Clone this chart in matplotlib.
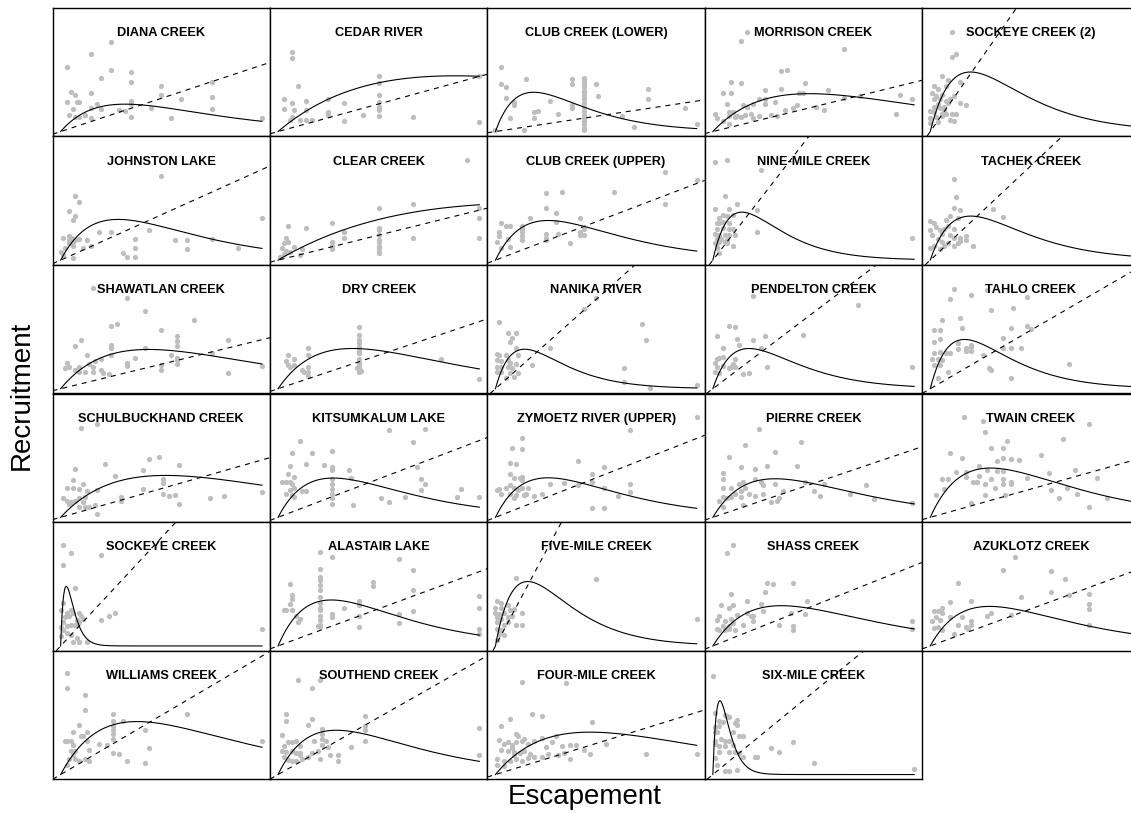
import numpy as np
import matplotlib
matplotlib.use("Agg")
import matplotlib.pyplot as plt

plt.rcParams['font.family'] = ['Liberation Sans', 'DejaVu Sans']

sites = ["DIANA CREEK", "CEDAR RIVER", "CLUB CREEK (LOWER)", "MORRISON CREEK", "SOCKEYE CREEK (2)",
         "JOHNSTON LAKE", "CLEAR CREEK", "CLUB CREEK (UPPER)", "NINE-MILE CREEK", "TACHEK CREEK",
         "SHAWATLAN CREEK", "DRY CREEK", "NANIKA RIVER", "PENDELTON CREEK", "TAHLO CREEK",
         "SCHULBUCKHAND CREEK", "KITSUMKALUM LAKE", "ZYMOETZ RIVER (UPPER)", "PIERRE CREEK", "TWAIN CREEK",
         "SOCKEYE CREEK", "ALASTAIR LAKE", "FIVE-MILE CREEK", "SHASS CREEK", "AZUKLOTZ CREEK",
         "WILLIAMS CREEK", "SOUTHEND CREEK", "FOUR-MILE CREEK", "SIX-MILE CREEK"]

# Ricker fit: escapement at peak recruitment, peak recruitment
peak_S = [32, 88, 19, 48, 20, 28.6, 130, 26.2, 14.4, 20.1, 43.7, 37, 14.5, 18, 17,
          52.2, 27.4, 26.2, 31, 30, 2.8, 26.5, 16, 34, 29.5, 38, 29, 47, 3.5]
peak_R = [23, 46.8, 33, 31.8, 50, 34.2, 48, 33.3, 40.3, 37.0, 33.0, 33.8, 33.2, 33.8, 41.4,
          35.2, 33.0, 33.2, 32.4, 41.4, 50, 38.6, 54.1, 33.8, 33.2, 44.5, 37.2, 35.6, 61.9]
# replacement line R = S, expressed in the scaled units of each panel
replacement_slope = [0.558, 0.463, 0.256, 0.414, 2.42, 0.761, 0.42, 0.644, 2.18, 1.585,
                     0.412, 0.564, 1.5, 1.28, 0.983, 0.482, 0.645, 0.663, 0.571, 0.475,
                     1.816, 0.624, 3.17, 0.675, 0.622, 0.995, 0.96, 0.522, 1.386]
escapement_max = 100

# observed (escapement, recruitment), scaled units
diana = [(25,75),(15,65),(3,54),(25,52),(35,50),(20,45),(35,42),(5,33),(7,31),(15,32),(50,38),(75,42),
         (75,29),(60,27),(9,25),(3,25),(8,25),(18,23),(15,20),(20,19),(6,19),(32,17),(35,26),(35,23),
         (45,20),(4,14),(7,12),(9,12),(12,14),(15,11),(35,12),(55,11),(75,19),(100,11),(50,31),(29,18)]
cedar = [(7,67),(7,62),(10,38),(50,47),(50,41),(50,31),(50,25),(50,21),(50,18),(50,13),(3,27),(7,24),
         (14,26),(3,19),(8,18),(14,18),(25,27),(33,24),(25,16),(25,14),(33,9),(11,10),(14,10),(7,12),
         (6,10),(17,10),(67,12),(100,47),(100,8),(42,14)]
club_lower = [(3,54),(3,40),(5,37),(5,28),(9,25),(9,22),(7,11),(15,44),(19,16),(19,11),(21,17),(27,26),
              (31,15),(38,44),(38,40),(38,22),(38,20),(0,1),(14,1),(50,40),(51,30),(76,36),(76,27),(63,13),
              (69,4),(94,20),(100,6),(44,45),(44,43),(44,41),(44,39),(44,37),(44,34),(44,32),(44,30),
              (44,27),(44,24),(44,21),(44,17),(44,14),(44,11),(44,9),(44,6),(44,3),(44,1)]
morrison = [(14,76),(17,84),(65,69),(34,51),(37,52),(9,42),(14,41),(46,41),(5,32),(9,32),(26,35),(34,36),
            (57,35),(43,32),(45,32),(23,27),(26,27),(20,23),(15,22),(17,21),(10,16),(12,13),(14,12),(16,14),
            (19,15),(7,23),(8,16),(8,13),(1,15),(2,11),(5,9),(8,6),(11,12),(20,11),(23,13),(29,14),(32,13),
            (36,18),(42,22),(40,20),(51,21),(55,18),(65,28),(73,30),(93,31),(99,27),(91,15),(31,25),(26,23)]
sockeye2 = [(11,84),(11,63),(13,65),(6,47),(9,43),(15,42),(8,38),(4,36),(2,38),(1,32),(3,30),(6,31),
            (2,27),(5,27),(8,26),(10,27),(12,30),(9,24),(15,24),(18,22),(4,23),(2,21),(7,21),(0,17),(2,16),
            (6,15),(8,15),(11,15),(13,15),(0,11),(3,12),(6,13),(10,10),(12,9),(4,8),(0,7),(7,18),(5,20)]
johnston = [(7,54),(9,49),(50,71),(4,41),(7,37),(6,34),(100,35),(19,24),(25,24),(44,25),(37,18),(1,19),
            (4,20),(5,19),(6,18),(4,17),(6,15),(7,17),(9,18),(13,17),(4,14),(6,12),(11,10),(15,12),(31,6),
            (37,10),(37,3),(33,3),(57,17),(63,17),(63,9),(88,10),(75,18),(0,7),(1,4),(6,2),(2,10)]
clear = [(94,84),(50,44),(67,47),(27,31),(33,24),(33,19),(50,27),(50,25),(50,21),(50,17),(50,15),(50,12),
         (50,10),(50,8),(50,6),(5,29),(14,27),(4,19),(5,15),(3,14),(2,10),(4,8),(6,7),(3,5),(1,3),(11,4),
         (12,9),(27,15),(27,12),(27,9),(67,19),(100,35),(100,44),(100,19),(8,11)]
club_upper = [(25,56),(33,57),(25,44),(30,40),(17,35),(3,31),(5,29),(7,29),(13,29),(13,26),(13,24),(13,20),
              (13,17),(2,24),(2,20),(6,18),(1,15),(7,11),(3,10),(25,22),(25,19),(25,17),(31,22),(37,14),
              (42,35),(42,24),(42,21),(30,32),(84,74),(59,57),(84,47),(100,67),(44,26),(44,21)]
nine_mile = [(1,82),(7,84),(24,76),(6,54),(12,47),(1,43),(8,43),(22,42),(5,38),(3,35),(7,37),(10,38),
             (2,31),(3,31),(5,32),(8,31),(2,26),(5,27),(8,26),(10,26),(1,22),(3,21),(6,21),(8,21),(11,21),
             (2,18),(4,18),(7,17),(1,14),(3,15),(6,15),(10,12),(2,10),(3,6),(22,24),(99,19),(7,14),(2,11)]
tachek = [(12,68),(13,53),(12,44),(15,42),(31,43),(36,36),(10,37),(8,34),(14,35),(0,33),(2,31),(3,28),
          (5,25),(6,22),(9,29),(12,26),(7,26),(10,21),(12,19),(15,19),(18,20),(18,17),(4,18),(6,15),(7,12),
          (9,14),(12,12),(14,14),(15,16),(21,12),(0,10),(2,12),(5,9),(0,25),(1,21)]
shawatlan = [(16,85),(33,76),(42,65),(66,58),(25,53),(28,54),(10,41),(7,36),(50,49),(58,44),(58,40),(58,36),
             (83,41),(25,37),(25,34),(42,34),(13,28),(17,23),(20,25),(25,28),(33,22),(33,19),(37,26),(50,20),
             (50,16),(55,28),(58,26),(58,24),(58,21),(75,30),(3,22),(4,18),(9,18),(14,21),(16,18),(12,14),
             (16,14),(20,16),(21,13),(24,12),(83,13),(100,19),(7,16),(9,14),(2,17)]
dry = [(40,52),(40,45),(40,41),(40,38),(40,35),(40,32),(40,30),(40,25),(40,22),(40,20),(40,17),(40,14),
       (15,34),(15,28),(5,28),(8,25),(4,23),(5,20),(6,18),(8,20),(12,16),(15,18),(15,14),(15,11),(13,14),
       (81,25),(100,8),(39,17),(41,15)]
nanika = [(2,56),(6,47),(10,47),(8,43),(7,39),(10,34),(1,29),(2,28),(5,28),(1,24),(3,23),(6,24),(7,22),
          (1,18),(3,18),(6,18),(8,17),(1,14),(3,14),(7,13),(11,13),(9,10),(5,9),(18,20),(27,34),(11,28),
          (10,21),(44,67),(50,76),(73,54),(75,41),(64,17),(64,6),(77,1),(100,3)]
pendelton = [(20,78),(72,70),(8,53),(11,52),(45,45),(2,44),(12,42),(20,41),(26,44),(13,37),(5,34),(24,34),
             (2,25),(3,26),(5,27),(11,25),(1,22),(2,18),(5,19),(10,21),(9,18),(11,18),(27,18),(1,14),(3,13),
             (15,12),(18,13),(99,18),(8,17)]
tahlo = [(12,84),(20,79),(28,83),(10,75),(48,77),(30,66),(41,68),(6,58),(15,59),(2,49),(5,49),(16,51),
         (40,51),(48,53),(50,50),(2,39),(5,42),(14,38),(36,43),(20,37),(18,34),(20,35),(18,32),(20,32),
         (2,30),(5,31),(8,30),(10,30),(14,33),(26,28),(36,34),(40,34),(45,34),(1,25),(4,25),(6,24),(2,20),
         (5,20),(29,17),(30,16),(40,9),(69,21),(4,9),(9,14)]
schulbuckhand = [(10,75),(18,78),(22,45),(7,41),(27,35),(44,49),(49,51),(59,44),(41,40),(51,32),(51,29),
                 (6,31),(11,28),(3,25),(6,25),(9,24),(18,23),(30,17),(41,24),(51,20),(54,18),(57,19),(59,11),
                 (74,16),(81,18),(100,21),(1,16),(3,14),(5,13),(7,14),(9,16),(12,17),(11,13),(9,9),(12,9),
                 (14,9),(17,10),(18,3),(30,14),(4,11),(13,22)]
kitsumkalum = [(55,73),(73,74),(11,64),(67,63),(7,54),(17,54),(27,56),(6,43),(14,45),(23,44),(27,42),(27,40),
               (35,40),(5,36),(8,34),(27,32),(36,33),(71,32),(2,30),(4,30),(6,30),(7,28),(8,25),(6,23),(4,20),
               (7,19),(8,17),(12,22),(14,22),(27,28),(27,24),(27,20),(27,16),(27,11),(37,10),(51,16),(55,13),
               (63,17),(89,17),(91,24),(100,17),(73,28),(71,23),(69,42)]
zymoetz = [(13,67),(8,58),(13,57),(7,46),(10,45),(7,36),(9,33),(12,33),(13,34),(13,31),(7,27),(9,25),
           (11,23),(13,25),(15,20),(1,23),(2,24),(5,25),(3,20),(7,20),(10,19),(19,18),(23,20),(27,28),(34,29),
           (41,27),(41,47),(9,16),(14,19),(16,25),(100,84),(67,73),(54,42),(48,36),(48,30),(54,25),(67,28),
           (67,21),(61,18),(48,8),(54,8)]
pierre = [(23,74),(44,63),(16,61),(8,51),(31,55),(14,42),(21,41),(27,43),(42,43),(5,37),(5,32),(5,25),
          (9,25),(13,28),(15,30),(16,25),(21,32),(24,30),(25,27),(31,28),(46,30),(55,28),(76,27),(5,17),
          (7,16),(9,17),(11,20),(14,22),(18,20),(14,17),(25,20),(21,18),(35,22),(50,22),(53,18),(68,20),
          (80,15),(99,12),(29,13),(32,14),(33,16),(15,10),(3,14),(5,9)]
twain = [(17,84),(26,81),(79,78),(27,72),(66,66),(38,64),(30,58),(36,58),(10,54),(16,50),(55,52),(36,50),
         (40,49),(44,48),(24,43),(13,38),(18,38),(28,40),(33,39),(36,39),(6,32),(9,32),(18,34),(21,30),
         (23,30),(27,28),(30,32),(32,25),(36,32),(36,28),(40,30),(40,28),(48,33),(59,37),(60,23),(68,25),
         (72,40),(73,20),(3,19),(7,24),(27,19),(37,19),(64,16),(20,12),(79,9),(83,33),(88,16),(24,35),(33,47)]
sockeye = [(1,85),(5,78),(20,76),(1,68),(7,49),(1,36),(0,30),(3,28),(5,30),(6,28),(2,24),(4,25),(1,20),
           (0,16),(3,17),(5,18),(7,18),(9,28),(10,25),(8,22),(9,20),(11,23),(20,22),(24,25),(27,28),(1,13),
           (3,11),(5,9),(8,7),(6,3),(9,3),(13,3),(100,14),(0,8)]
alastair = [(21,79),(27,75),(21,65),(54,82),(60,73),(67,64),(21,58),(21,55),(21,51),(21,47),(47,54),(47,50),
            (6,52),(7,43),(7,39),(67,47),(21,41),(21,36),(21,32),(21,30),(21,25),(21,22),(21,18),(21,16),
            (6,35),(4,30),(7,30),(9,25),(10,20),(11,23),(3,30),(27,27),(27,24),(33,32),(40,38),(40,34),
            (40,25),(40,16),(60,27),(60,19),(67,29),(100,42),(100,32),(100,14),(100,10),(20,17)]
five_mile = [(10,57),(1,38),(3,36),(0,32),(3,32),(6,34),(0,28),(2,27),(4,28),(7,30),(9,31),(13,28),(1,24),
             (3,23),(6,24),(8,25),(1,20),(4,18),(6,20),(10,18),(13,18),(1,14),(3,13),(2,10),(4,9),(1,5),
             (50,56),(100,23)]
shass = [(10,85),(7,78),(27,53),(30,52),(40,53),(9,44),(26,45),(4,34),(10,34),(8,32),(17,38),(24,35),
         (47,38),(3,25),(6,21),(2,22),(5,17),(8,17),(10,19),(9,23),(12,26),(15,18),(17,28),(19,25),(20,25),
         (20,21),(25,29),(39,28),(40,17),(33,18),(40,13),(46,27),(2,14),(3,13),(6,13),(8,14),(99,21),
         (99,14),(11,13)]
azuklotz = [(42,75),(36,64),(60,63),(67,56),(14,53),(45,41),(60,45),(69,43),(79,44),(10,37),(20,38),(79,35),
            (79,31),(6,32),(4,29),(2,29),(6,28),(1,21),(3,24),(5,22),(4,16),(2,15),(10,24),(14,18),(16,24),
            (20,21),(20,18),(19,14),(18,16),(12,10),(28,25),(30,28),(40,26),(79,18),(6,13)]
williams = [(3,85),(3,73),(12,67),(12,54),(26,51),(63,51),(9,42),(6,36),(13,36),(26,45),(26,41),(26,37),
            (26,34),(26,30),(31,45),(42,37),(2,28),(3,28),(5,28),(6,25),(10,32),(11,32),(13,28),(14,21),
            (19,26),(23,25),(26,18),(29,17),(44,22),(5,20),(7,20),(6,16),(7,13),(9,11),(12,13),(14,11),
            (33,11),(42,10),(100,28),(3,8),(4,13)]
southend = [(10,79),(17,73),(21,79),(4,51),(4,45),(17,47),(15,42),(22,38),(22,34),(22,30),(22,25),(2,33),
            (5,27),(7,27),(9,28),(11,24),(3,24),(2,20),(4,19),(7,20),(9,18),(11,18),(11,16),(3,15),(5,12),
            (7,11),(9,11),(12,13),(15,15),(17,18),(20,20),(24,28),(25,23),(21,13),(26,16),(30,16),(30,11),
            (36,23),(43,49),(43,41),(43,37),(43,28),(100,39),(100,16),(18,28)]
four_mile = [(13,78),(35,77),(18,51),(23,49),(3,41),(7,47),(10,34),(11,32),(2,29),(4,26),(6,27),(8,25),
             (10,27),(13,28),(14,30),(16,26),(19,28),(23,31),(28,27),(30,32),(33,24),(37,25),(40,25),(3,21),
             (6,20),(8,22),(9,19),(12,18),(14,20),(17,17),(23,15),(26,17),(31,16),(34,18),(37,13),(1,13),
             (4,11),(7,11),(10,13),(13,11),(16,14),(19,15),(1,8),(4,7),(9,16),(25,23),(48,44),(44,21),
             (47,17),(55,26),(75,17),(100,17)]
six_mile = [(0,83),(1,52),(3,45),(6,50),(7,49),(8,48),(1,40),(3,41),(5,44),(11,43),(12,42),(12,46),(1,36),
            (2,36),(10,36),(1,28),(4,30),(6,28),(8,28),(1,26),(3,24),(6,24),(10,25),(13,32),(15,32),(3,19),
            (8,19),(11,19),(13,18),(15,15),(21,15),(22,15),(29,22),(33,19),(40,27),(50,10),(2,8),(6,3),
            (8,3),(12,4),(100,5),(1,14)]

observations = [diana, cedar, club_lower, morrison, sockeye2, johnston, clear, club_upper, nine_mile,
                tachek, shawatlan, dry, nanika, pendelton, tahlo, schulbuckhand, kitsumkalum, zymoetz,
                pierre, twain, sockeye, alastair, five_mile, shass, azuklotz, williams, southend,
                four_mile, six_mile]

FW, FH = 1131, 813
fig = plt.figure(figsize=(FW / 100, FH / 100), dpi=100)
PW, PH = 217.4, 128.6
X0, Y0 = 52.6, 7.7

for i, (name, pts) in enumerate(zip(sites, observations)):
    r, c = divmod(i, 5)
    ax = fig.add_axes([(X0 + c * PW) / FW, 1 - (Y0 + (r + 1) * PH) / FH, PW / FW, PH / FH])
    S, R = np.array(pts, dtype=float).T
    ax.plot(S, R, 'o', color='#bebebe', ms=3.8, mec='none', zorder=1)
    s = np.linspace(0, escapement_max, 800)
    b = 1.0 / peak_S[i]
    a = peak_R[i] * np.e / peak_S[i]
    ax.plot(s, a * s * np.exp(-b * s), color='black', lw=0.8, zorder=3)
    ax.axline((0, 0), slope=replacement_slope[i], color='black', lw=0.8,
              dashes=(4.5, 4.5), zorder=2)
    ax.set_xlim(-0.04 * escapement_max, 1.04 * escapement_max)
    ax.set_ylim(-4, 104)
    ax.set_xticks([])
    ax.set_yticks([])
    for sp in ax.spines.values():
        sp.set_linewidth(1.0)
    ax.text(0.5, 0.78, name, transform=ax.transAxes, ha='center', va='baseline',
            fontsize=9.2, fontweight='bold', zorder=4)

fig.text(585 / FW, 1 - 797 / FH, 'Escapement', ha='center', va='center', fontsize=20)
fig.text(22 / FW, 1 - 395 / FH, 'Recruitment', rotation=90, ha='center', va='center', fontsize=20)

fig.savefig('out.png', dpi=100)
